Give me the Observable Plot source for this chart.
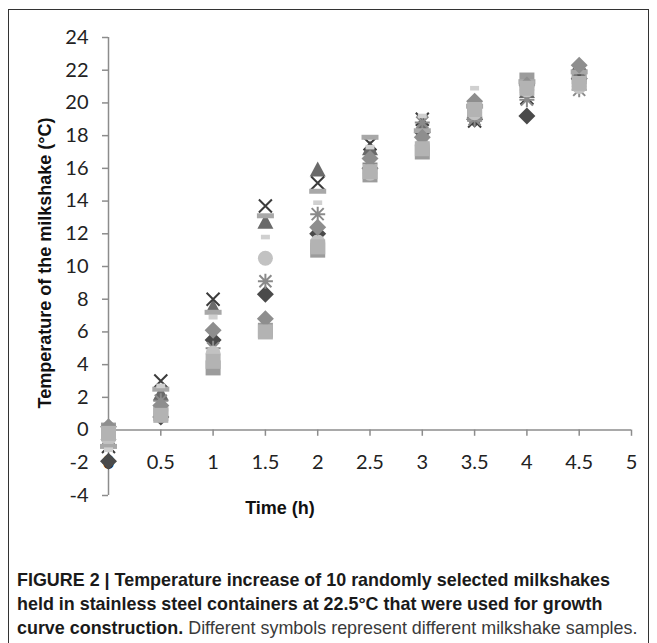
<!DOCTYPE html>
<html><head><meta charset="utf-8">
<script src="https://cdn.jsdelivr.net/npm/d3@7"></script>
<script src="https://cdn.jsdelivr.net/npm/@observablehq/plot@0.6"></script>
<style>
body{margin:0;background:#fff;width:657px;height:643px;overflow:hidden;position:relative;font-family:"Liberation Sans",Arial,sans-serif}
#frame{position:absolute;left:8px;top:9px;width:641px;height:700px;border:1.5px solid #333;box-sizing:border-box}
#chart{position:absolute;left:0;top:0}
#ytitle{position:absolute;left:45px;top:263px;transform:translate(-50%,-50%) rotate(-90deg);white-space:nowrap;font-weight:bold;font-size:18px;color:#111}
#xtitle{position:absolute;left:280px;top:508px;transform:translate(-50%,-50%);white-space:nowrap;font-weight:bold;font-size:18px;color:#111}
#caption{position:absolute;left:17px;top:568px;font-size:18.5px;line-height:24px;color:#222;transform-origin:0 0}
#caption div{white-space:nowrap}
#caption b{color:#1a1a1a}
</style></head><body>
<div id="frame"></div>
<div id="chart"></div>
<div id="ytitle">Temperature of the milkshake (°C)</div>
<div id="xtitle">Time (h)</div>
<div id="caption">
<div id="cl1"><b>FIGURE 2 | Temperature increase of 10 randomly selected milkshakes</b></div>
<div><b>held in stainless steel containers at 22.5°C that were used for growth</b></div>
<div><b>curve construction.</b> <span style="color:#3a3a3a">Different symbols represent different milkshake samples.</span></div>
</div>
<script>
const times = [0, 0.5, 1, 1.5, 2, 2.5, 3, 3.5, 4, 4.5];
const s1  = [-1.9, 0.8, 5.5, 8.3, 12.0, 16.0, 18.2, 19.0, 19.2, 21.5];
const s2  = [0.0, 1.0, 3.8, 6.1, 11.0, 15.6, 17.0, 19.3, 21.4, 21.6];
const s3  = [-0.2, 2.2, 7.5, 12.7, 15.9, 17.2, 18.6, 19.5, 20.7, 21.8];
const s4  = [-1.0, 3.0, 8.0, 13.7, 15.1, 17.5, 19.0, 18.9, 20.3, 21.7];
const s5  = [-0.5, 1.8, 5.0, 9.1, 13.2, 16.3, 18.8, 19.0, 20.2, 20.8];
const s6  = [-0.5, 1.2, 4.7, 10.5, 11.5, 15.7, 17.4, 19.4, 20.8, 21.0];
const s7  = [-1.0, 2.5, 7.2, 13.1, 14.6, 17.9, 18.3, 19.8, 21.3, 21.9];
const s8  = [-1.2, 2.7, 6.9, 11.8, 13.9, 17.3, 19.2, 20.9, 21.0, 21.3];
const s9  = [0.2, 1.5, 6.1, 6.8, 12.4, 16.6, 17.9, 20.1, 21.1, 22.3];
const s10 = [-0.2, 0.9, 4.2, 6.0, 11.2, 15.8, 17.2, 19.6, 20.9, 21.2];
const xTicks = [0, 0.5, 1, 1.5, 2, 2.5, 3, 3.5, 4, 4.5, 5];
const yTicks = [-4, -2, 0, 2, 4, 6, 8, 10, 12, 14, 16, 18, 20, 22, 24];

const sym = {
  diamond: {draw(c){c.moveTo(0,-8.5);c.lineTo(8.5,0);c.lineTo(0,8.5);c.lineTo(-8.5,0);c.closePath();}},
  square: {draw(c){c.rect(-7.5,-7.5,15,15);}},
  triangle: {draw(c){c.moveTo(0,-8.5);c.lineTo(8,6.5);c.lineTo(-8,6.5);c.closePath();}},
  times: {draw(c){c.moveTo(-6.5,-6.5);c.lineTo(6.5,6.5);c.moveTo(6.5,-6.5);c.lineTo(-6.5,6.5);}},
  star: {draw(c){c.moveTo(-6,-6);c.lineTo(6,6);c.moveTo(6,-6);c.lineTo(-6,6);c.moveTo(0,-7.5);c.lineTo(0,7.5);c.moveTo(-7.5,0);c.lineTo(7.5,0);}},
  circle: {draw(c){c.moveTo(7.5,0);c.arc(0,0,7.5,0,2*Math.PI);}},
  bar: {draw(c){c.rect(-8.5,-2.5,17,5);}},
  dash: {draw(c){c.rect(-4.5,-2.3,9,4.6);}}
};

const series = [
  {values: s1, symbol: sym.diamond, fill: "#4a4a4a"},
  {values: s2, symbol: sym.square, fill: "#9c9c9c"},
  {values: s3, symbol: sym.triangle, fill: "#6a6a6a"},
  {values: s4, symbol: sym.times, stroke: "#3c3c3c"},
  {values: s5, symbol: sym.star, stroke: "#8a8a8a"},
  {values: s6, symbol: sym.circle, fill: "#c2c2c2"},
  {values: s7, symbol: sym.bar, fill: "#a8a8a8"},
  {values: s8, symbol: sym.dash, fill: "#d0d0d0"},
  {values: s9, symbol: sym.diamond, fill: "#8e8e8e"},
  {values: s10, symbol: sym.square, fill: "#b3b3b3"}
];

const dotMarks = series.map(s => {
  const data = times.map((t, i) => ({t, v: s.values[i]}));
  return s.stroke
    ? Plot.dot(data, {x: "t", y: "v", symbol: s.symbol, fill: "none", stroke: s.stroke, strokeWidth: 2})
    : Plot.dot(data, {x: "t", y: "v", symbol: s.symbol, fill: s.fill, stroke: "none"});
});

const axisColor = "#8c8c8c";
const chart = Plot.plot({
  width: 657, height: 545,
  marginLeft: 108, marginRight: 26, marginTop: 37, marginBottom: 50,
  x: {domain: [0, 5], axis: null},
  y: {domain: [-4, 24], axis: null},
  style: {background: "transparent", overflow: "visible"},
  marks: [
    Plot.ruleX([0], {y1: -4, y2: 24, stroke: axisColor, strokeWidth: 1.5}),
    Plot.ruleY([0], {x1: 0, x2: 5, stroke: axisColor, strokeWidth: 1.5}),
    Plot.ruleX(xTicks.filter(d => d > 0), {y1: 0, y2: -0.38, stroke: axisColor, strokeWidth: 1.5}),
    Plot.axisY({ticks: yTicks, tickSize: 6, tickPadding: 14, fontSize: 20, fontFamily: "Lato", stroke: axisColor, strokeWidth: 1.5, fill: "#222", label: null, tickFormat: d => String(d)}),
    Plot.text(xTicks, {x: d => d, y: -2, text: d => String(d), fontSize: 20, fontFamily: "Lato", fill: "#222"}),
    ...dotMarks
  ]
});
document.getElementById("chart").appendChild(chart);

const cap = document.getElementById("caption");
const w1 = document.getElementById("cl1").firstChild.getBoundingClientRect().width;
cap.style.transform = `scaleX(${593 / w1})`;
</script>
</body></html>
